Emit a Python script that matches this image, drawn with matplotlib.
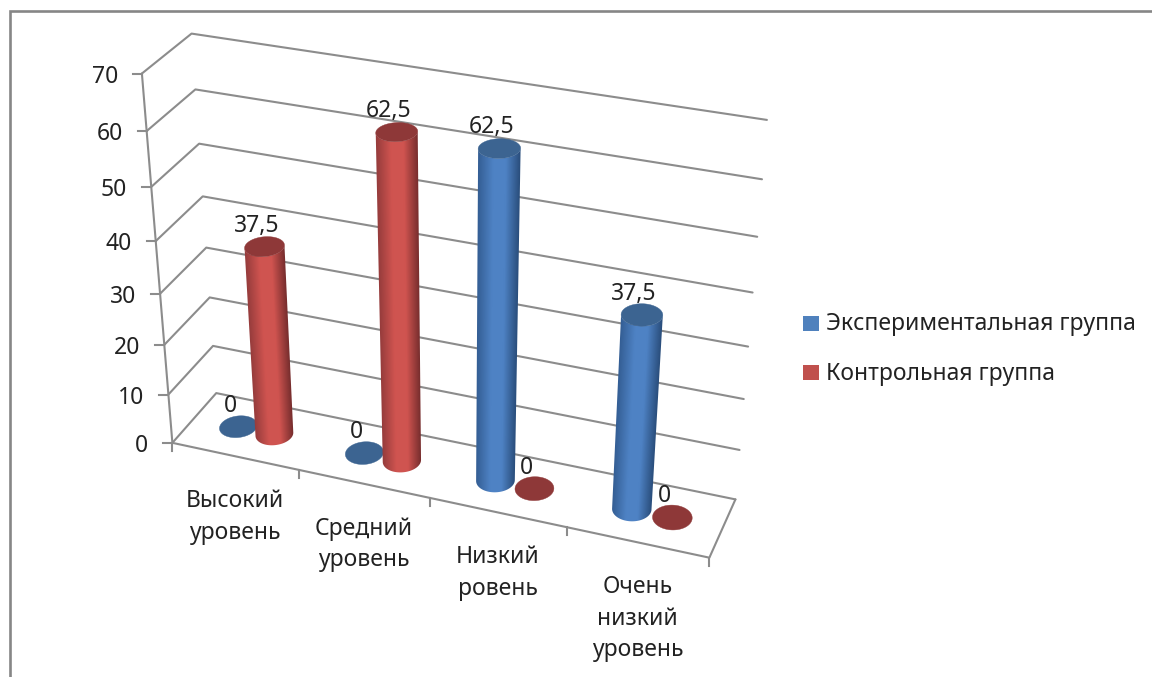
import numpy as np
import matplotlib
matplotlib.use('Agg')
import matplotlib.pyplot as plt
from matplotlib.colors import LinearSegmentedColormap
from matplotlib.patches import Polygon, Rectangle

categories = ['Высокий\nуровень', 'Средний\nуровень', 'Низкий\nровень', 'Очень\nнизкий\nуровень']
series_names = ['Экспериментальная группа', 'Контрольная группа']
exp_values = [0, 0, 62.5, 37.5]
ctrl_values = [37.5, 62.5, 0, 0]
value_ticks = [0, 10, 20, 30, 40, 50, 60, 70]

plt.rcParams['font.family'] = ['Noto Sans', 'DejaVu Sans']

GRID = '#8c8c8c'
TEXT = '#222222'
FONT = 16.5

# corners of the chart box: (category, depth, value) -> pixel
box_world = [(0, 0, 0), (0, 0, 70), (0, 1, 0), (0, 1, 70), (4, 1, 0), (4, 1, 70), (4, 0, 0)]
box_pixel = [(172, 443), (142.7, 73), (216.7, 393), (190.7, 34), (735.7, 499), (767, 120), (709, 558)]


def solve_camera(world, pixel):
    rows = []
    rhs = []
    for (x, y, z), (u, v) in zip(world, pixel):
        rows.append([x, y, z, 1, 0, 0, 0, 0, -u * x, -u * y, -u * z])
        rows.append([0, 0, 0, 0, x, y, z, 1, -v * x, -v * y, -v * z])
        rhs += [u, v]
    m = np.linalg.lstsq(np.array(rows, float), np.array(rhs, float), rcond=None)[0]
    return np.append(m, 1.0).reshape(3, 4)


CAM = solve_camera(box_world, box_pixel)


def project(x, y, z):
    x, y, z = np.broadcast_arrays(np.asarray(x, float), np.asarray(y, float), np.asarray(z, float))
    p = CAM @ np.stack([x.ravel(), y.ravel(), z.ravel(), np.ones(x.size)])
    return p[0] / p[2], p[1] / p[2]


fig = plt.figure(figsize=(11.52, 6.77), dpi=100)
ax = fig.add_axes([0, 0, 1, 1])
ax.set_xlim(0, 1152)
ax.set_ylim(677, 0)
ax.axis('off')

# outer frame, only top and left are visible
ax.plot([10, 10, 1152], [677, 11, 11], color='#868686', lw=1.9, solid_joinstyle='miter', zorder=1)


def line3d(xs, ys, zs, **kw):
    u, v = project(xs, ys, zs)
    ax.plot(u, v, color=GRID, lw=1.5, solid_capstyle='round', zorder=2, **kw)


n = len(categories)
for val in value_ticks:
    line3d([0, 0, n], [0, 1, 1], [val, val, val])
    u, v = project(0, 0, val)
    ax.plot([u[0] - 9, u[0]], [v[0], v[0]], color=GRID, lw=1.5, zorder=2)
    ax.text(u[0] - 24, v[0] + 3, str(val), ha='right', va='center', fontsize=FONT, color=TEXT)

line3d([0, 0], [0, 0], [0, 70])
line3d([0, n, n], [0, 0, 1], [0, 0, 0])

for i in range(n + 1):
    u, v = project(i, 0, 0)
    ax.plot([u[0], u[0]], [v[0], v[0] + 8], color=GRID, lw=1.5, zorder=2)

for i, label in enumerate(categories):
    u, v = project(i + 0.5, 0, 0)
    ax.text(u[0], v[0] + 33, label, ha='center', va='top', fontsize=FONT, color=TEXT, linespacing=1.42)

# cylinder footprint in category/depth units
RX = 0.135
RY = 0.205
OFFSET = 0.145
DEPTH = 0.5


def ring(cx, z, t):
    return project(cx + RX * np.cos(t), DEPTH + RY * np.sin(t), np.full_like(t, z))


def front_arc(cx, z, count):
    # the part of a ring facing the viewer, left silhouette point to right one
    t = np.linspace(0, 2 * np.pi, 1441)[:-1]
    u, v = ring(cx, z, t)
    left = int(np.argmin(u))
    right = int(np.argmax(u))
    arc = (left + np.arange((right - left) % len(t) + 1)) % len(t)
    if v[arc].mean() < v.mean():
        arc = (left - np.arange((left - right) % len(t) + 1)) % len(t)
    pick = arc[np.linspace(0, len(arc) - 1, count).astype(int)]
    return u[pick], v[pick]


def side_cmap(base, left_edge, right_edge):
    # brightest around the middle, falling off towards both silhouettes
    return LinearSegmentedColormap.from_list('side', [(0, left_edge), (0.36, base), (0.66, base), (1, right_edge)])


def draw_disc(cx, z, color, zorder):
    t = np.linspace(0, 2 * np.pi, 90)
    u, v = ring(cx, z, t)
    ax.add_patch(Polygon(np.column_stack([u, v]), closed=True, fc=color, ec=color, lw=0.3, zorder=zorder))


def draw_cylinder(cx, z, style, zorder):
    base, left_edge, right_edge, cap = style
    u0, v0 = front_arc(cx, 0, 60)
    u1, v1 = front_arc(cx, z, 60)
    x0, x1 = np.floor(min(u0.min(), u1.min())) - 1, np.ceil(max(u0.max(), u1.max())) + 1
    y0, y1 = np.floor(v1.min()) - 1, np.ceil(v0.max()) + 1
    # shade row by row between the two straight silhouette edges
    xs = np.linspace(x0, x1, int(x1 - x0) * 3)
    ys = np.linspace(y0, y1, int(y1 - y0))
    frac = (ys - v0[0]) / (v1[0] - v0[0])
    left = u0[0] + (u1[0] - u0[0]) * frac
    right = u0[-1] + (u1[-1] - u0[-1]) * frac
    shade = (xs[None, :] - left[:, None]) / (right - left)[:, None]
    img = ax.imshow(np.clip(shade, 0, 1), extent=(x0, x1, y1, y0), origin='upper', aspect='auto',
                    cmap=side_cmap(base, left_edge, right_edge), vmin=0, vmax=1,
                    interpolation='bilinear', zorder=zorder)
    outline = Polygon(np.column_stack([np.r_[u0, u1[::-1]], np.r_[v0, v1[::-1]]]), closed=True,
                      fc='none', ec='none', transform=ax.transData)
    ax.add_patch(outline)
    img.set_clip_path(outline)
    draw_disc(cx, z, cap, zorder + 0.1)


def rgb(*cols):
    return tuple(tuple(c / 255 for c in col) for col in cols)


BLUE = rgb((78, 130, 196), (52, 94, 148), (42, 78, 124), (60, 100, 145))
RED = rgb((208, 84, 80), (150, 60, 60), (120, 46, 46), (142, 56, 56))

for i in range(n):
    for vals, side, style in ((exp_values, -1, BLUE), (ctrl_values, 1, RED)):
        val = vals[i]
        cx = i + 0.5 + side * OFFSET
        if val == 0:
            draw_disc(cx, 0, style[3], 3)
        else:
            draw_cylinder(cx, val, style, 4 + i)
        u, v = project(cx, DEPTH, val)
        text = ('%g' % val).replace('.', ',')
        ax.text(u[0] - 8, v[0] - 21, text, ha='center', va='center', fontsize=FONT, color=TEXT, zorder=20)

# legend
legend_colors = ['#4f81bd', '#c0504d']
legend_y = [323.5, 372.5]
for name, col, y in zip(series_names, legend_colors, legend_y):
    ax.add_patch(Rectangle((803, y - 7.5), 16, 15, fc=col, ec='none', zorder=5))
    ax.text(826, y + 1, name, ha='left', va='center', fontsize=FONT, color=TEXT)

ax.set_xlim(0, 1152)
ax.set_ylim(677, 0)
fig.savefig('out.png', dpi=100, facecolor='white')
